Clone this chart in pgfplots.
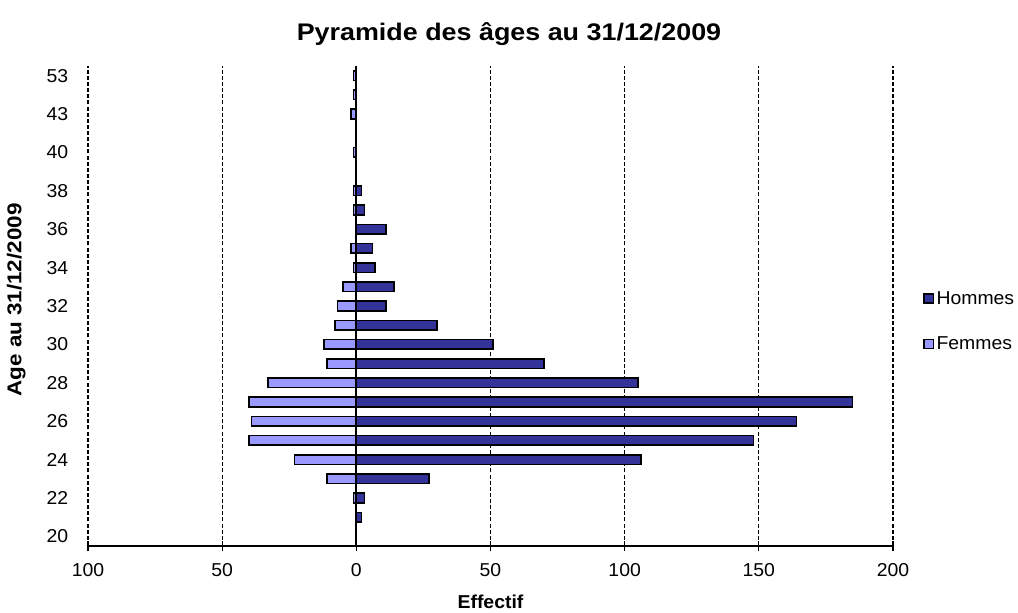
\documentclass[border=0pt]{standalone}
\usepackage{pgfplots}
\pgfplotsset{compat=1.18}
\usepackage{fontspec}
\setmainfont{Liberation Sans}[FakeStretch=1.04]
\newfontfamily\widefont{Liberation Sans}[FakeStretch=1.12]
\definecolor{hommes}{RGB}{51,51,153}
\definecolor{femmes}{RGB}{153,153,255}
\begin{document}
\begin{tikzpicture}
\useasboundingbox (-66pt,-50.25pt) rectangle (697.5pt,409.5pt);
\begin{axis}[
  scale only axis,
  width=603.75pt, height=360pt,
  xbar, bar shift=0pt, bar width=7.2pt,
  xmin=-100, xmax=200, ymin=-0.5, ymax=24.5,
  xtick={-100,-50,0,50,100,150,200},
  xticklabels={100,50,0,50,100,150,200},
  ytick={0,2,...,24},
  yticklabels={20,22,24,26,28,30,32,34,36,38,40,43,53},
  axis x line*=bottom, axis y line*=left,
  x axis line style={line width=1.1pt},
  y axis line style={draw=none},
  ytick style={draw=none},
  xtick style={black, line width=0.8pt},
  tick align=center, major tick length=7.5pt,
  xmajorgrids, major grid style={black, line width=0.9pt, dash pattern=on 3pt off 1.6pt},
  /pgf/number format/assume math mode=true,
  tick label style={font=\fontsize{14}{16}\selectfont},
  yticklabel style={anchor=east, xshift=-7.5pt},
  xticklabel style={anchor=north, yshift=-5.5pt},
  title={Pyramide des âges au 31/12/2009},
  every axis title/.style={at={(axis description cs:0.523,1.066)}, anchor=center, font=\widefont\fontsize{18}{20}\selectfont\bfseries},
  xlabel={Effectif},
  every axis x label/.style={at={(axis description cs:0.5,-0.1167)}, anchor=center, font=\fontsize{14}{16}\selectfont\bfseries},
  ylabel={Age au 31/12/2009},
  every axis y label/.style={at={(axis description cs:-0.089,0.5125)}, anchor=center, rotate=90, font=\widefont\fontsize{15}{17}\selectfont\bfseries},
  legend style={at={(axis description cs:1.0375,0.468)}, anchor=west, draw=none, fill=none,
    row sep=19pt, font=\fontsize{14}{16}\selectfont, inner sep=0pt,
    /tikz/every even column/.append style={column sep=0pt}},
  legend cell align=left,
  legend image code/.code={\draw[#1, line width=1pt] (0pt,-3.4pt) rectangle (6.8pt,3.4pt);},
]
\addplot[draw=black, line width=1.1pt, fill=hommes] coordinates {
(0,0) (2,1) (3,2) (27,3) (106,4) (148,5) (164,6) (185,7) (105,8) (70,9)
(51,10) (30,11) (11,12) (14,13) (7,14) (6,15) (11,16) (3,17) (2,18) (0,19)
(0,20) (0,21) (0,22) (0,23) (0,24)};
\addlegendentry{Hommes}
\addplot[draw=black, line width=1.1pt, fill=femmes] coordinates {
(0,0) (0,1) (-1,2) (-11,3) (-23,4) (-40,5) (-39,6) (-40,7) (-33,8) (-11,9)
(-12,10) (-8,11) (-7,12) (-5,13) (-1,14) (-2,15) (0,16) (-1,17) (-1,18) (0,19)
(-1,20) (0,21) (-2,22) (-1,23) (-1,24)};
\addlegendentry{Femmes}
\addplot[forget plot, sharp plot, black, line width=1.5pt] coordinates {(0,-0.5) (0,24.5)};
\end{axis}
\end{tikzpicture}
\end{document}
